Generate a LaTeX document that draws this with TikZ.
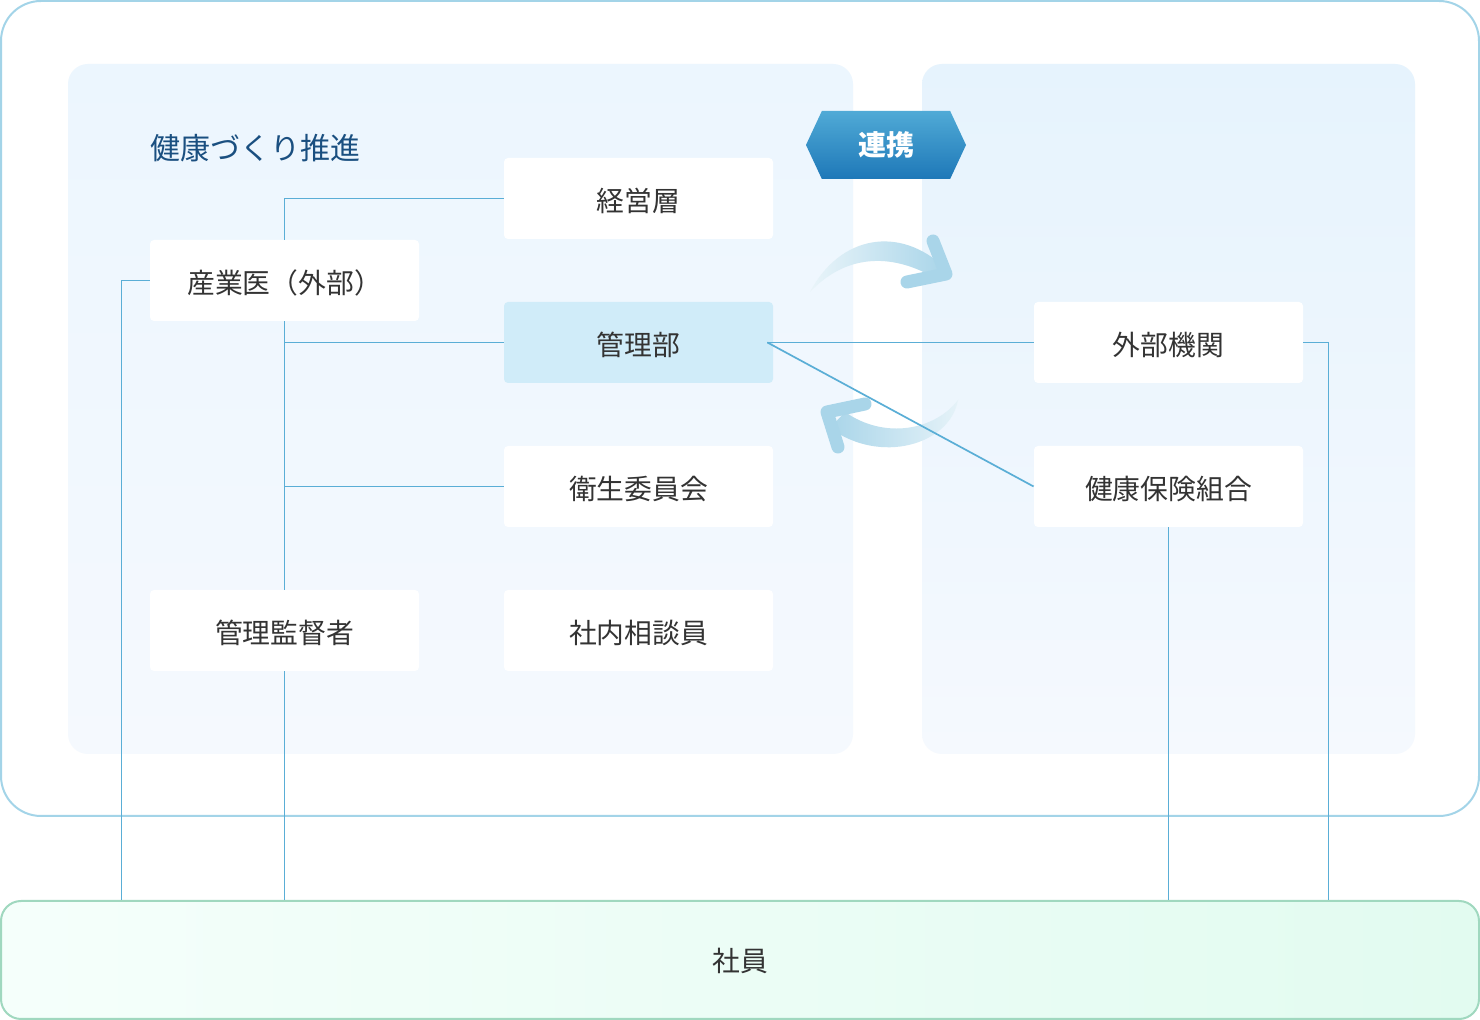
\documentclass[tikz,border=0pt]{standalone}
\usepackage{fontspec}
\setmainfont{Noto Sans CJK JP}
\usepackage{tikz}
\usetikzlibrary{positioning,calc,backgrounds,shapes.symbols}

\definecolor{linkblue}{HTML}{5AAED6}
\definecolor{framblue}{HTML}{A3D4E8}
\definecolor{titleblue}{HTML}{1A4F80}
\definecolor{boxtext}{HTML}{333333}
\definecolor{kanrifill}{HTML}{D0ECF9}
\definecolor{shainline}{HTML}{A0D8BF}
\definecolor{arrowblue}{HTML}{A9D5E9}
\definecolor{paneltop}{HTML}{ECF6FE}
\definecolor{panelbot}{HTML}{F5F9FE}
\definecolor{paneltopr}{HTML}{E6F3FD}
\definecolor{shainleft}{HTML}{F5FFFB}
\definecolor{shainright}{HTML}{E2FBF0}

\begin{document}
\begin{tikzpicture}[
  x=0.5pt, y=-0.5pt,
  font=\fontsize{13.9pt}{16pt}\selectfont,
  box/.style={rounded corners=2pt, minimum width=134.5pt, minimum height=40.5pt, align=center, fill=white, text=boxtext, inner sep=0pt, text height=1.42em, text depth=0.12em},
  hilite/.style={box, fill=kanrifill},
  link/.style={draw=linkblue, line width=0.85pt},
  panel/.style={rounded corners=10pt},
  arrowhead/.style={draw=arrowblue, line width=6.5pt, line cap=round, line join=round},
  badge/.style={signal, signal to=east and west, signal pointer angle=130, minimum width=80pt, minimum height=34pt, inner sep=0pt, text=white, font=\fontsize{14pt}{16pt}\selectfont\bfseries}
]
\useasboundingbox (0,0) rectangle (1480,1020);

% frames
\draw[draw=framblue, line width=1pt, fill=white, rounded corners=20pt] (1,1) rectangle (1479,816);
\shade[panel, top color=paneltop, bottom color=panelbot] (68,64) rectangle (853,754);
\shade[panel, top color=paneltopr, bottom color=panelbot] (922,64) rectangle (1415,754);

% title + badge
\node[anchor=west, inner sep=0pt, text=titleblue, font=\fontsize{15pt}{17pt}\selectfont] (title) at (150,148) {健康づくり推進};
\node[badge, top color={rgb,255:red,80;green,170;blue,214}, bottom color={rgb,255:red,30;green,120;blue,184}] (renkei) at (886,145) {連携};

% arrows
\shade[left color=arrowblue!25, right color=arrowblue] (810,292) .. controls (840,235) and (900,225) .. (945,268) -- (935,278) .. controls (890,252) and (845,255) .. (810,292) -- cycle;
\draw[arrowhead] (933,241) -- (946,274) -- (907,282);
\shade[left color=arrowblue, right color=arrowblue!30] (958,400) .. controls (950,445) and (880,465) .. (830,428) -- (845,412) .. controls (885,440) and (935,430) .. (958,400) -- cycle;
\draw[arrowhead] (865,404) -- (827,412) -- (838,447);

% left side
\node[box] (keiei) at (638.5,198.5) {経営層};
\node[box] (sangyo) at (284.5,280.5) {産業医（外部）};
\node[hilite] (kanri) at (638.5,342.5) {管理部};
\node[box] (eisei) at (638.5,486.5) {衛生委員会};
\node[box] (kantoku) at (284.5,630.5) {管理監督者};
\node[box] (soudan) at (638.5,630.5) {社内相談員};

% right side
\node[box] (gaibu) at (1168.5,342.5) {外部機関};
\node[box] (kenpo) at (1168.5,486.5) {健康保険組合};

% employees
\node[draw=shainline, line width=1pt, rounded corners=10pt, minimum width=739pt, minimum height=59pt, left color=shainleft, right color=shainright, text=boxtext, text height=1.3em, text depth=0.12em] (shain) at (740,960) {社員};

\draw[link] (keiei.west) -| (sangyo.north);
\draw[link] (sangyo.south) -- (kantoku.north);
\draw[link] (kanri.west) -- (kanri.west -| sangyo.south);
\draw[link] (eisei.west) -- (eisei.west -| sangyo.south);
\draw[link] (kantoku.south) -- (kantoku.south |- shain.north);
\draw[link] (sangyo.west) -| ([xshift=-14pt]sangyo.west |- shain.north);
\draw[link] ([xshift=-3pt]kanri.east) -- (gaibu.west);
\draw[link] ([xshift=-3pt]kanri.east) -- (kenpo.west);
\draw[link] (gaibu.east) -| ([xshift=12.5pt]gaibu.east |- shain.north);
\draw[link] (kenpo.south) -- (kenpo.south |- shain.north);
\end{tikzpicture}
\end{document}
